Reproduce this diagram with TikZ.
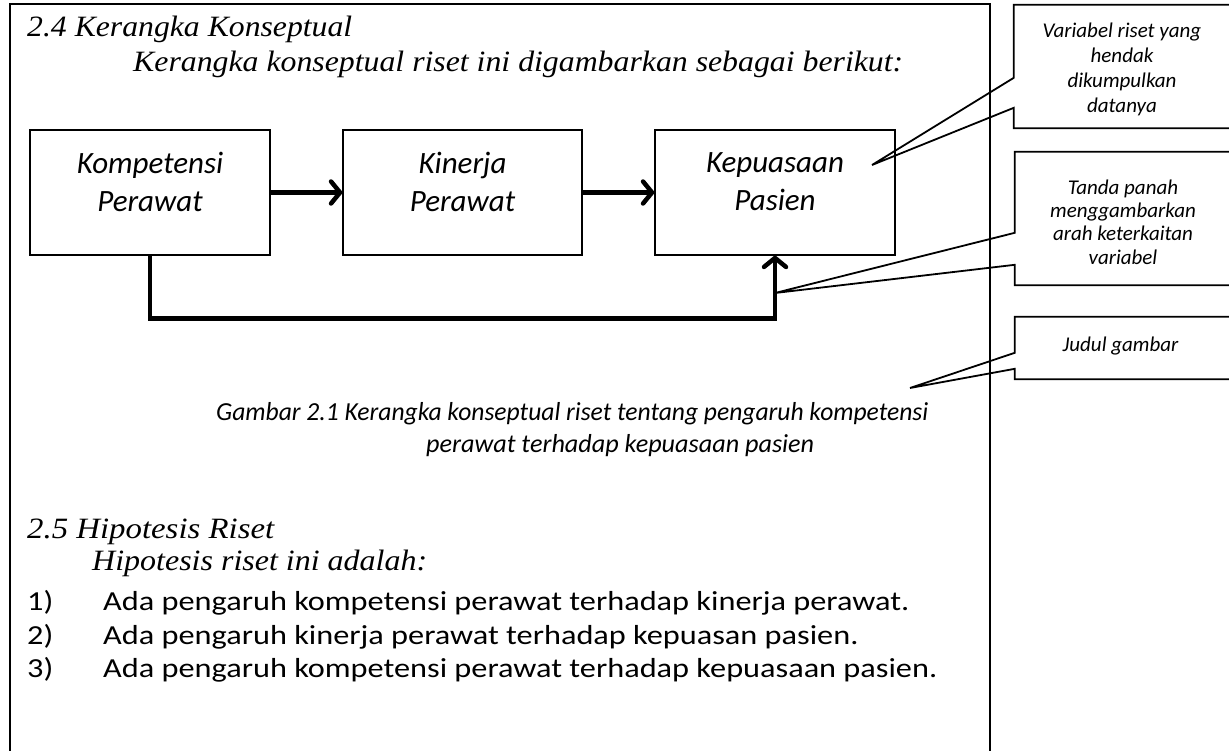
\documentclass[tikz,border=0pt]{standalone}
\usepackage{fontspec}
\usepackage{graphicx}
\setmainfont{Liberation Serif}
\newfontfamily\calfont{Carlito}
\usetikzlibrary{arrows.meta,calc}

% set a line of text stretched to a given width, keeping its height
\newcommand{\fitline}[2]{\resizebox{#1}{\height}{#2}}
% list lines are set slightly wide
\newcommand{\wide}[1]{\scalebox{1.175}[1]{#1}}

\begin{document}
\begin{tikzpicture}[x=1pt,y=-1pt,
  stepbox/.style={draw, line width=1.4pt, minimum width=240pt, minimum height=125pt, inner sep=0pt},
  boxtext/.style={font=\calfont\itshape\fontsize{31}{38}\selectfont, align=center, inner sep=0pt},
  flow/.style={line width=4.5pt, -{Straight Barb[length=9pt,width=22pt,round]}},
  notebox/.style={inner sep=0pt, align=center, font=\calfont\itshape\fontsize{21}{25}\selectfont},
  noteline/.style={line width=1.8pt, line join=miter},
  head/.style={anchor=base west, inner sep=0pt, font=\itshape\fontsize{29.5}{34}\selectfont},
  caption/.style={anchor=base west, inner sep=0pt, font=\calfont\itshape\fontsize{26}{32}\selectfont},
  listtext/.style={anchor=base west, inner sep=0pt, font=\calfont\fontsize{27.5}{33}\selectfont},
]
\useasboundingbox (0,0) rectangle (1229,751);
\clip (0,0) rectangle (1229,751);

% page frame
\draw[line width=2pt] (10,760) -- (10,4) -- (990,4) -- (990,760);

% section 2.4
\node[head] (h1) at (27,37) {\fitline{325pt}{2.4 Kerangka Konseptual}};
\node[head] (h1a) at (133,72) {\fitline{770pt}{Kerangka konseptual riset ini digambarkan sebagai berikut:}};

% the three variables
\node[stepbox] (b1) at (150,192.5) {};
\node[stepbox, minimum width=239pt] (b2) at (462.5,192.5) {};
\node[stepbox] (b3) at (775,192.5) {};
\node[boxtext] (t1) at ($(b1.center)+(0,-11)$) {Kompetensi\\Perawat};
\node[boxtext] (t2) at ($(b2.center)+(0,-11)$) {Kinerja\\Perawat};
\node[boxtext] (t3) at ($(b3.center)+(0,-11)$) {Kepuasaan\\Pasien};

\draw[flow] (b1.east) -- (b2.west);
\draw[flow] (b2.east) -- (b3.west);
\draw[flow] (b1.south) -- ++(0,63) -| (b3.south);

% caption
\node[caption] (cap1) at (216,420) {\fitline{712pt}{Gambar 2.1 Kerangka konseptual riset tentang pengaruh kompetensi}};
\node[caption] (cap2) at (426,452) {\fitline{388pt}{perawat terhadap kepuasaan pasien}};

% section 2.5
\node[head] (h2) at (27,538) {\fitline{247pt}{2.5 Hipotesis Riset}};
\node[head] (h2a) at (92,570) {\fitline{335pt}{Hipotesis riset ini adalah:}};
\node[listtext] (n1) at (27,610) {\wide{1)}};
\node[listtext] (l1) at (103,610) {\wide{Ada pengaruh kompetensi perawat terhadap kinerja perawat.}};
\node[listtext] (n2) at (27,644) {\wide{2)}};
\node[listtext] (l2) at (103,644) {\wide{Ada pengaruh kinerja perawat terhadap kepuasan pasien.}};
\node[listtext] (n3) at (27,677) {\wide{3)}};
\node[listtext] (l3) at (103,677) {\wide{Ada pengaruh kompetensi perawat terhadap kepuasaan pasien.}};

% margin notes
\coordinate (tA) at (872,165);
\coordinate (tB) at (775,293);
\coordinate (tC) at (910,388);

\node[notebox, minimum width=220pt, minimum height=123pt] (cA) at (1124,66.5) {};
\node[notebox] (cAt) at ($(cA.center)+(-2,3)$) {Variabel riset yang\\hendak\\dikumpulkan\\datanya};
\draw[noteline] (cA.north east) -- (cA.north west) -- ($(cA.north west)+(0,73)$) -- (tA)
  -- ($(cA.north west)+(0,103)$) -- (cA.south west) -- (cA.south east);

\node[notebox, minimum width=219pt, minimum height=133pt] (cB) at (1124.5,218.5) {};
\node[notebox, font=\calfont\itshape\fontsize{21}{23.4}\selectfont] (cBt) at ($(cB.center)+(-1.5,3.5)$)
  {Tanda panah\\menggambarkan\\arah keterkaitan\\variabel};
\draw[noteline] (cB.north east) -- (cB.north west) -- ($(cB.north west)+(0,81)$) -- (tB)
  -- ($(cB.north west)+(0,113)$) -- (cB.south west) -- (cB.south east);

\node[notebox, minimum width=219pt, minimum height=62pt] (cC) at (1124.5,348) {};
\node[notebox] (cCt) at ($(cC.center)+(-4,-2)$) {Judul gambar};
\draw[noteline] (cC.north east) -- (cC.north west) -- ($(cC.north west)+(0,36)$) -- (tC)
  -- ($(cC.north west)+(0,52)$) -- (cC.south west) -- (cC.south east);
\end{tikzpicture}
\end{document}
